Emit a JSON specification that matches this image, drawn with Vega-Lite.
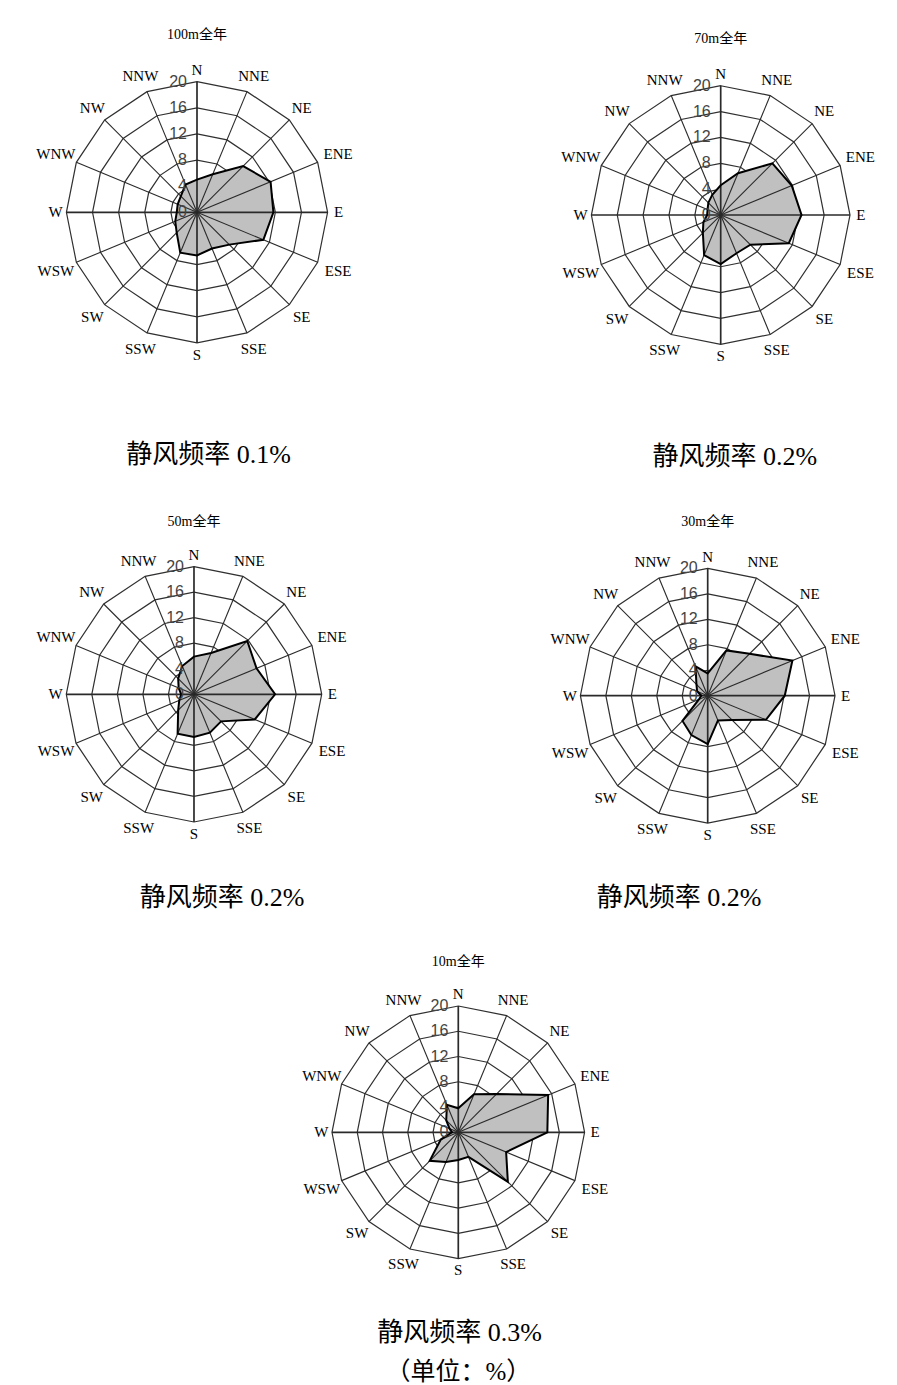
{
  "$schema": "https://vega.github.io/schema/vega-lite/v6.json",
  "padding": 0,
  "background": "white",
  "config": {"view": {"stroke": null}, "concat": {"spacing": 0}},
  "datasets": {
    "dirs": [{"dir":"N"},{"dir":"NNE"},{"dir":"NE"},{"dir":"ENE"},{"dir":"E"},{"dir":"ESE"},{"dir":"SE"},{"dir":"SSE"},{"dir":"S"},{"dir":"SSW"},{"dir":"SW"},{"dir":"WSW"},{"dir":"W"},{"dir":"WNW"},{"dir":"NW"},{"dir":"NNW"}],
    "ticks": [{"t":0},{"t":4},{"t":8},{"t":12},{"t":16},{"t":20}],
    "panels": [
      {"h":"100m","title":"100m全年","cap":"静风频率 0.1%"},
      {"h":"70m","title":"70m全年","cap":"静风频率 0.2%"},
      {"h":"50m","title":"50m全年","cap":"静风频率 0.2%"},
      {"h":"30m","title":"30m全年","cap":"静风频率 0.2%"},
      {"h":"10m","title":"10m全年","cap":"静风频率 0.3%","unit":"（单位：%）"}
    ],
    "wind": [
      {"h":"100m","dir":"N","v":5.0},{"h":"100m","dir":"NNE","v":6.3},{"h":"100m","dir":"NE","v":10.0},{"h":"100m","dir":"ENE","v":12.2},
      {"h":"100m","dir":"E","v":11.7},{"h":"100m","dir":"ESE","v":11.0},{"h":"100m","dir":"SE","v":7.0},{"h":"100m","dir":"SSE","v":6.0},
      {"h":"100m","dir":"S","v":6.6},{"h":"100m","dir":"SSW","v":6.7},{"h":"100m","dir":"SW","v":4.4},{"h":"100m","dir":"WSW","v":3.6},
      {"h":"100m","dir":"W","v":3.1},{"h":"100m","dir":"WNW","v":3.2},{"h":"100m","dir":"NW","v":3.5},{"h":"100m","dir":"NNW","v":4.6},
      {"h":"70m","dir":"N","v":4.6},{"h":"70m","dir":"NNE","v":7.0},{"h":"70m","dir":"NE","v":11.3},{"h":"70m","dir":"ENE","v":11.9},
      {"h":"70m","dir":"E","v":12.5},{"h":"70m","dir":"ESE","v":11.4},{"h":"70m","dir":"SE","v":6.5},{"h":"70m","dir":"SSE","v":6.4},
      {"h":"70m","dir":"S","v":7.6},{"h":"70m","dir":"SSW","v":6.7},{"h":"70m","dir":"SW","v":3.9},{"h":"70m","dir":"WSW","v":2.9},
      {"h":"70m","dir":"W","v":2.1},{"h":"70m","dir":"WNW","v":2.2},{"h":"70m","dir":"NW","v":2.7},{"h":"70m","dir":"NNW","v":3.4},
      {"h":"50m","dir":"N","v":5.9},{"h":"50m","dir":"NNE","v":7.0},{"h":"50m","dir":"NE","v":11.8},{"h":"50m","dir":"ENE","v":10.6},
      {"h":"50m","dir":"E","v":12.7},{"h":"50m","dir":"ESE","v":10.3},{"h":"50m","dir":"SE","v":6.0},{"h":"50m","dir":"SSE","v":6.5},
      {"h":"50m","dir":"S","v":6.7},{"h":"50m","dir":"SSW","v":6.7},{"h":"50m","dir":"SW","v":3.5},{"h":"50m","dir":"WSW","v":2.5},
      {"h":"50m","dir":"W","v":2.0},{"h":"50m","dir":"WNW","v":2.6},{"h":"50m","dir":"NW","v":3.5},{"h":"50m","dir":"NNW","v":4.8},
      {"h":"30m","dir":"N","v":3.5},{"h":"30m","dir":"NNE","v":7.7},{"h":"30m","dir":"NE","v":9.3},{"h":"30m","dir":"ENE","v":14.4},
      {"h":"30m","dir":"E","v":12.1},{"h":"30m","dir":"ESE","v":9.9},{"h":"30m","dir":"SE","v":5.4},{"h":"30m","dir":"SSE","v":4.2},
      {"h":"30m","dir":"S","v":7.6},{"h":"30m","dir":"SSW","v":6.7},{"h":"30m","dir":"SW","v":5.6},{"h":"30m","dir":"WSW","v":1.5},
      {"h":"30m","dir":"W","v":1.0},{"h":"30m","dir":"WNW","v":1.8},{"h":"30m","dir":"NW","v":2.5},{"h":"30m","dir":"NNW","v":5.0},
      {"h":"10m","dir":"N","v":3.8},{"h":"10m","dir":"NNE","v":6.5},{"h":"10m","dir":"NE","v":8.6},{"h":"10m","dir":"ENE","v":15.4},
      {"h":"10m","dir":"E","v":14.1},{"h":"10m","dir":"ESE","v":8.2},{"h":"10m","dir":"SE","v":11.1},{"h":"10m","dir":"SSE","v":4.2},
      {"h":"10m","dir":"S","v":4.4},{"h":"10m","dir":"SSW","v":5.1},{"h":"10m","dir":"SW","v":6.4},{"h":"10m","dir":"WSW","v":3.0},
      {"h":"10m","dir":"W","v":1.0},{"h":"10m","dir":"WNW","v":1.5},{"h":"10m","dir":"NW","v":2.7},{"h":"10m","dir":"NNW","v":4.7}
    ]
  },
  "vconcat": [
    {"hconcat": [
      {
        "width": 448, "height": 485,
        "encoding": {
          "x": {"field": "px", "type": "quantitative", "scale": {"domain": [-30.17, 38.44], "nice": false, "zero": false}, "axis": null},
          "y": {"field": "py", "type": "quantitative", "scale": {"domain": [-41.76, 32.51], "nice": false, "zero": false}, "axis": null}
        },
        "layer": [
          {"data": {"name": "dirs"}, "transform": [{"calculate": "indexof(['N','NNE','NE','ENE','E','ESE','SE','SSE','S','SSW','SW','WSW','W','WNW','NW','NNW'], datum.dir)", "as": "idx"}, {"calculate": "datum.idx * PI / 8", "as": "a"}, {"calculate": "[4,8,12,16,20]", "as": "ring"}, {"flatten": ["ring"]}, {"calculate": "datum.ring * sin(datum.a)", "as": "px"}, {"calculate": "datum.ring * cos(datum.a)", "as": "py"}],
           "mark": {"type": "line", "interpolate": "linear-closed", "stroke": "#303030", "strokeWidth": 1.2},
           "encoding": {"detail": {"field": "ring", "type": "nominal"}, "order": {"field": "idx", "type": "quantitative"}}},
          {"data": {"name": "wind"}, "transform": [{"filter": "datum.h == '100m'"}, {"calculate": "indexof(['N','NNE','NE','ENE','E','ESE','SE','SSE','S','SSW','SW','WSW','W','WNW','NW','NNW'], datum.dir)", "as": "idx"}, {"calculate": "datum.idx * PI / 8", "as": "a"}, {"calculate": "datum.v * sin(datum.a)", "as": "px"}, {"calculate": "datum.v * cos(datum.a)", "as": "py"}],
           "mark": {"type": "line", "interpolate": "linear-closed", "fill": "#c0c0c0", "stroke": "#c0c0c0", "strokeOpacity": 0},
           "encoding": {"order": {"field": "idx", "type": "quantitative"}}},
          {"data": {"name": "dirs"}, "transform": [{"calculate": "indexof(['N','NNE','NE','ENE','E','ESE','SE','SSE','S','SSW','SW','WSW','W','WNW','NW','NNW'], datum.dir)", "as": "idx"}, {"calculate": "datum.idx * PI / 8", "as": "a"}, {"calculate": "20 * sin(datum.a)", "as": "px"}, {"calculate": "20 * cos(datum.a)", "as": "py"}],
           "mark": {"type": "rule", "stroke": "#2a2a2a"},
           "encoding": {"x2": {"datum": 0}, "y2": {"datum": 0}, "strokeWidth": {"condition": {"test": "datum.idx % 4 == 0", "value": 1.7}, "value": 1.1}}},
          {"data": {"name": "wind"}, "transform": [{"filter": "datum.h == '100m'"}, {"calculate": "indexof(['N','NNE','NE','ENE','E','ESE','SE','SSE','S','SSW','SW','WSW','W','WNW','NW','NNW'], datum.dir)", "as": "idx"}, {"calculate": "datum.idx * PI / 8", "as": "a"}, {"calculate": "datum.v * sin(datum.a)", "as": "px"}, {"calculate": "datum.v * cos(datum.a)", "as": "py"}],
           "mark": {"type": "line", "interpolate": "linear-closed", "stroke": "#000000", "strokeWidth": 2},
           "encoding": {"order": {"field": "idx", "type": "quantitative"}}},
          {"data": {"name": "dirs"}, "transform": [{"calculate": "indexof(['N','NNE','NE','ENE','E','ESE','SE','SSE','S','SSW','SW','WSW','W','WNW','NW','NNW'], datum.dir)", "as": "idx"}, {"calculate": "datum.idx * PI / 8", "as": "a"}, {"calculate": "20.9 + abs(sin(datum.a)) * 0.77 * length(datum.dir) + abs(cos(datum.a)) * 0.95", "as": "lr"}, {"calculate": "datum.lr * sin(datum.a)", "as": "px"}, {"calculate": "datum.lr * cos(datum.a)", "as": "py"}],
           "mark": {"type": "text", "font": "Liberation Serif", "fontSize": 15, "fill": "#000000", "align": "center", "baseline": "middle"},
           "encoding": {"text": {"field": "dir"}}},
          {"data": {"name": "ticks"}, "transform": [{"calculate": "0", "as": "px"}, {"calculate": "datum.t", "as": "py"}],
           "mark": {"type": "text", "font": "Liberation Sans", "fontSize": 16, "fill": "#444444", "align": "right", "baseline": "middle", "dx": -10},
           "encoding": {"text": {"field": "t"}}},
          {"data": {"name": "panels"}, "transform": [{"filter": "datum.h == '100m'"}, {"calculate": "0", "as": "px"}, {"calculate": "27.15", "as": "py"}],
           "mark": {"type": "text", "font": "'Liberation Serif', 'Noto Sans CJK SC'", "fontSize": 14, "fill": "#000000", "align": "center", "baseline": "middle"},
           "encoding": {"text": {"field": "title"}}},
          {"data": {"name": "panels"}, "transform": [{"filter": "datum.h == '100m'"}, {"calculate": "1.76", "as": "px"}, {"calculate": "-37.17", "as": "py"}],
           "mark": {"type": "text", "font": "'Liberation Serif', 'Noto Sans CJK SC'", "fontSize": 26, "fill": "#000000", "align": "center", "baseline": "middle"},
           "encoding": {"text": {"field": "cap"}}}
        ]
      },
      {
        "width": 449, "height": 485,
        "encoding": {
          "x": {"field": "px", "type": "quantitative", "scale": {"domain": [-42.18, 27.27], "nice": false, "zero": false}, "axis": null},
          "y": {"field": "py", "type": "quantitative", "scale": {"domain": [-41.76, 33.26], "nice": false, "zero": false}, "axis": null}
        },
        "layer": [
          {"data": {"name": "dirs"}, "transform": [{"calculate": "indexof(['N','NNE','NE','ENE','E','ESE','SE','SSE','S','SSW','SW','WSW','W','WNW','NW','NNW'], datum.dir)", "as": "idx"}, {"calculate": "datum.idx * PI / 8", "as": "a"}, {"calculate": "[4,8,12,16,20]", "as": "ring"}, {"flatten": ["ring"]}, {"calculate": "datum.ring * sin(datum.a)", "as": "px"}, {"calculate": "datum.ring * cos(datum.a)", "as": "py"}],
           "mark": {"type": "line", "interpolate": "linear-closed", "stroke": "#303030", "strokeWidth": 1.2},
           "encoding": {"detail": {"field": "ring", "type": "nominal"}, "order": {"field": "idx", "type": "quantitative"}}},
          {"data": {"name": "wind"}, "transform": [{"filter": "datum.h == '70m'"}, {"calculate": "indexof(['N','NNE','NE','ENE','E','ESE','SE','SSE','S','SSW','SW','WSW','W','WNW','NW','NNW'], datum.dir)", "as": "idx"}, {"calculate": "datum.idx * PI / 8", "as": "a"}, {"calculate": "datum.v * sin(datum.a)", "as": "px"}, {"calculate": "datum.v * cos(datum.a)", "as": "py"}],
           "mark": {"type": "line", "interpolate": "linear-closed", "fill": "#c0c0c0", "stroke": "#c0c0c0", "strokeOpacity": 0},
           "encoding": {"order": {"field": "idx", "type": "quantitative"}}},
          {"data": {"name": "dirs"}, "transform": [{"calculate": "indexof(['N','NNE','NE','ENE','E','ESE','SE','SSE','S','SSW','SW','WSW','W','WNW','NW','NNW'], datum.dir)", "as": "idx"}, {"calculate": "datum.idx * PI / 8", "as": "a"}, {"calculate": "20 * sin(datum.a)", "as": "px"}, {"calculate": "20 * cos(datum.a)", "as": "py"}],
           "mark": {"type": "rule", "stroke": "#2a2a2a"},
           "encoding": {"x2": {"datum": 0}, "y2": {"datum": 0}, "strokeWidth": {"condition": {"test": "datum.idx % 4 == 0", "value": 1.7}, "value": 1.1}}},
          {"data": {"name": "wind"}, "transform": [{"filter": "datum.h == '70m'"}, {"calculate": "indexof(['N','NNE','NE','ENE','E','ESE','SE','SSE','S','SSW','SW','WSW','W','WNW','NW','NNW'], datum.dir)", "as": "idx"}, {"calculate": "datum.idx * PI / 8", "as": "a"}, {"calculate": "datum.v * sin(datum.a)", "as": "px"}, {"calculate": "datum.v * cos(datum.a)", "as": "py"}],
           "mark": {"type": "line", "interpolate": "linear-closed", "stroke": "#000000", "strokeWidth": 2},
           "encoding": {"order": {"field": "idx", "type": "quantitative"}}},
          {"data": {"name": "dirs"}, "transform": [{"calculate": "indexof(['N','NNE','NE','ENE','E','ESE','SE','SSE','S','SSW','SW','WSW','W','WNW','NW','NNW'], datum.dir)", "as": "idx"}, {"calculate": "datum.idx * PI / 8", "as": "a"}, {"calculate": "20.9 + abs(sin(datum.a)) * 0.77 * length(datum.dir) + abs(cos(datum.a)) * 0.95", "as": "lr"}, {"calculate": "datum.lr * sin(datum.a)", "as": "px"}, {"calculate": "datum.lr * cos(datum.a)", "as": "py"}],
           "mark": {"type": "text", "font": "Liberation Serif", "fontSize": 15, "fill": "#000000", "align": "center", "baseline": "middle"},
           "encoding": {"text": {"field": "dir"}}},
          {"data": {"name": "ticks"}, "transform": [{"calculate": "0", "as": "px"}, {"calculate": "datum.t", "as": "py"}],
           "mark": {"type": "text", "font": "Liberation Sans", "fontSize": 16, "fill": "#444444", "align": "right", "baseline": "middle", "dx": -10},
           "encoding": {"text": {"field": "t"}}},
          {"data": {"name": "panels"}, "transform": [{"filter": "datum.h == '70m'"}, {"calculate": "0", "as": "px"}, {"calculate": "27.22", "as": "py"}],
           "mark": {"type": "text", "font": "'Liberation Serif', 'Noto Sans CJK SC'", "fontSize": 14, "fill": "#000000", "align": "center", "baseline": "middle"},
           "encoding": {"text": {"field": "title"}}},
          {"data": {"name": "panels"}, "transform": [{"filter": "datum.h == '70m'"}, {"calculate": "2.2", "as": "px"}, {"calculate": "-37.43", "as": "py"}],
           "mark": {"type": "text", "font": "'Liberation Serif', 'Noto Sans CJK SC'", "fontSize": 26, "fill": "#000000", "align": "center", "baseline": "middle"},
           "encoding": {"text": {"field": "cap"}}}
        ]
      }
    ]},
    {"hconcat": [
      {
        "width": 448, "height": 430,
        "encoding": {
          "x": {"field": "px", "type": "quantitative", "scale": {"domain": [-30.38, 39.78], "nice": false, "zero": false}, "axis": null},
          "y": {"field": "py", "type": "quantitative", "scale": {"domain": [-34.57, 32.78], "nice": false, "zero": false}, "axis": null}
        },
        "layer": [
          {"data": {"name": "dirs"}, "transform": [{"calculate": "indexof(['N','NNE','NE','ENE','E','ESE','SE','SSE','S','SSW','SW','WSW','W','WNW','NW','NNW'], datum.dir)", "as": "idx"}, {"calculate": "datum.idx * PI / 8", "as": "a"}, {"calculate": "[4,8,12,16,20]", "as": "ring"}, {"flatten": ["ring"]}, {"calculate": "datum.ring * sin(datum.a)", "as": "px"}, {"calculate": "datum.ring * cos(datum.a)", "as": "py"}],
           "mark": {"type": "line", "interpolate": "linear-closed", "stroke": "#303030", "strokeWidth": 1.2},
           "encoding": {"detail": {"field": "ring", "type": "nominal"}, "order": {"field": "idx", "type": "quantitative"}}},
          {"data": {"name": "wind"}, "transform": [{"filter": "datum.h == '50m'"}, {"calculate": "indexof(['N','NNE','NE','ENE','E','ESE','SE','SSE','S','SSW','SW','WSW','W','WNW','NW','NNW'], datum.dir)", "as": "idx"}, {"calculate": "datum.idx * PI / 8", "as": "a"}, {"calculate": "datum.v * sin(datum.a)", "as": "px"}, {"calculate": "datum.v * cos(datum.a)", "as": "py"}],
           "mark": {"type": "line", "interpolate": "linear-closed", "fill": "#c0c0c0", "stroke": "#c0c0c0", "strokeOpacity": 0},
           "encoding": {"order": {"field": "idx", "type": "quantitative"}}},
          {"data": {"name": "dirs"}, "transform": [{"calculate": "indexof(['N','NNE','NE','ENE','E','ESE','SE','SSE','S','SSW','SW','WSW','W','WNW','NW','NNW'], datum.dir)", "as": "idx"}, {"calculate": "datum.idx * PI / 8", "as": "a"}, {"calculate": "20 * sin(datum.a)", "as": "px"}, {"calculate": "20 * cos(datum.a)", "as": "py"}],
           "mark": {"type": "rule", "stroke": "#2a2a2a"},
           "encoding": {"x2": {"datum": 0}, "y2": {"datum": 0}, "strokeWidth": {"condition": {"test": "datum.idx % 4 == 0", "value": 1.7}, "value": 1.1}}},
          {"data": {"name": "wind"}, "transform": [{"filter": "datum.h == '50m'"}, {"calculate": "indexof(['N','NNE','NE','ENE','E','ESE','SE','SSE','S','SSW','SW','WSW','W','WNW','NW','NNW'], datum.dir)", "as": "idx"}, {"calculate": "datum.idx * PI / 8", "as": "a"}, {"calculate": "datum.v * sin(datum.a)", "as": "px"}, {"calculate": "datum.v * cos(datum.a)", "as": "py"}],
           "mark": {"type": "line", "interpolate": "linear-closed", "stroke": "#000000", "strokeWidth": 2},
           "encoding": {"order": {"field": "idx", "type": "quantitative"}}},
          {"data": {"name": "dirs"}, "transform": [{"calculate": "indexof(['N','NNE','NE','ENE','E','ESE','SE','SSE','S','SSW','SW','WSW','W','WNW','NW','NNW'], datum.dir)", "as": "idx"}, {"calculate": "datum.idx * PI / 8", "as": "a"}, {"calculate": "20.9 + abs(sin(datum.a)) * 0.77 * length(datum.dir) + abs(cos(datum.a)) * 0.95", "as": "lr"}, {"calculate": "datum.lr * sin(datum.a)", "as": "px"}, {"calculate": "datum.lr * cos(datum.a)", "as": "py"}],
           "mark": {"type": "text", "font": "Liberation Serif", "fontSize": 15, "fill": "#000000", "align": "center", "baseline": "middle"},
           "encoding": {"text": {"field": "dir"}}},
          {"data": {"name": "ticks"}, "transform": [{"calculate": "0", "as": "px"}, {"calculate": "datum.t", "as": "py"}],
           "mark": {"type": "text", "font": "Liberation Sans", "fontSize": 16, "fill": "#444444", "align": "right", "baseline": "middle", "dx": -10},
           "encoding": {"text": {"field": "t"}}},
          {"data": {"name": "panels"}, "transform": [{"filter": "datum.h == '50m'"}, {"calculate": "0", "as": "px"}, {"calculate": "26.98", "as": "py"}],
           "mark": {"type": "text", "font": "'Liberation Serif', 'Noto Sans CJK SC'", "fontSize": 14, "fill": "#000000", "align": "center", "baseline": "middle"},
           "encoding": {"text": {"field": "title"}}},
          {"data": {"name": "panels"}, "transform": [{"filter": "datum.h == '50m'"}, {"calculate": "4.39", "as": "px"}, {"calculate": "-31.9", "as": "py"}],
           "mark": {"type": "text", "font": "'Liberation Serif', 'Noto Sans CJK SC'", "fontSize": 26, "fill": "#000000", "align": "center", "baseline": "middle"},
           "encoding": {"text": {"field": "cap"}}}
        ]
      },
      {
        "width": 449, "height": 430,
        "encoding": {
          "x": {"field": "px", "type": "quantitative", "scale": {"domain": [-40.8, 29.74], "nice": false, "zero": false}, "axis": null},
          "y": {"field": "py", "type": "quantitative", "scale": {"domain": [-34.45, 33.1], "nice": false, "zero": false}, "axis": null}
        },
        "layer": [
          {"data": {"name": "dirs"}, "transform": [{"calculate": "indexof(['N','NNE','NE','ENE','E','ESE','SE','SSE','S','SSW','SW','WSW','W','WNW','NW','NNW'], datum.dir)", "as": "idx"}, {"calculate": "datum.idx * PI / 8", "as": "a"}, {"calculate": "[4,8,12,16,20]", "as": "ring"}, {"flatten": ["ring"]}, {"calculate": "datum.ring * sin(datum.a)", "as": "px"}, {"calculate": "datum.ring * cos(datum.a)", "as": "py"}],
           "mark": {"type": "line", "interpolate": "linear-closed", "stroke": "#303030", "strokeWidth": 1.2},
           "encoding": {"detail": {"field": "ring", "type": "nominal"}, "order": {"field": "idx", "type": "quantitative"}}},
          {"data": {"name": "wind"}, "transform": [{"filter": "datum.h == '30m'"}, {"calculate": "indexof(['N','NNE','NE','ENE','E','ESE','SE','SSE','S','SSW','SW','WSW','W','WNW','NW','NNW'], datum.dir)", "as": "idx"}, {"calculate": "datum.idx * PI / 8", "as": "a"}, {"calculate": "datum.v * sin(datum.a)", "as": "px"}, {"calculate": "datum.v * cos(datum.a)", "as": "py"}],
           "mark": {"type": "line", "interpolate": "linear-closed", "fill": "#c0c0c0", "stroke": "#c0c0c0", "strokeOpacity": 0},
           "encoding": {"order": {"field": "idx", "type": "quantitative"}}},
          {"data": {"name": "dirs"}, "transform": [{"calculate": "indexof(['N','NNE','NE','ENE','E','ESE','SE','SSE','S','SSW','SW','WSW','W','WNW','NW','NNW'], datum.dir)", "as": "idx"}, {"calculate": "datum.idx * PI / 8", "as": "a"}, {"calculate": "20 * sin(datum.a)", "as": "px"}, {"calculate": "20 * cos(datum.a)", "as": "py"}],
           "mark": {"type": "rule", "stroke": "#2a2a2a"},
           "encoding": {"x2": {"datum": 0}, "y2": {"datum": 0}, "strokeWidth": {"condition": {"test": "datum.idx % 4 == 0", "value": 1.7}, "value": 1.1}}},
          {"data": {"name": "wind"}, "transform": [{"filter": "datum.h == '30m'"}, {"calculate": "indexof(['N','NNE','NE','ENE','E','ESE','SE','SSE','S','SSW','SW','WSW','W','WNW','NW','NNW'], datum.dir)", "as": "idx"}, {"calculate": "datum.idx * PI / 8", "as": "a"}, {"calculate": "datum.v * sin(datum.a)", "as": "px"}, {"calculate": "datum.v * cos(datum.a)", "as": "py"}],
           "mark": {"type": "line", "interpolate": "linear-closed", "stroke": "#000000", "strokeWidth": 2},
           "encoding": {"order": {"field": "idx", "type": "quantitative"}}},
          {"data": {"name": "dirs"}, "transform": [{"calculate": "indexof(['N','NNE','NE','ENE','E','ESE','SE','SSE','S','SSW','SW','WSW','W','WNW','NW','NNW'], datum.dir)", "as": "idx"}, {"calculate": "datum.idx * PI / 8", "as": "a"}, {"calculate": "20.9 + abs(sin(datum.a)) * 0.77 * length(datum.dir) + abs(cos(datum.a)) * 0.95", "as": "lr"}, {"calculate": "datum.lr * sin(datum.a)", "as": "px"}, {"calculate": "datum.lr * cos(datum.a)", "as": "py"}],
           "mark": {"type": "text", "font": "Liberation Serif", "fontSize": 15, "fill": "#000000", "align": "center", "baseline": "middle"},
           "encoding": {"text": {"field": "dir"}}},
          {"data": {"name": "ticks"}, "transform": [{"calculate": "0", "as": "px"}, {"calculate": "datum.t", "as": "py"}],
           "mark": {"type": "text", "font": "Liberation Sans", "fontSize": 16, "fill": "#444444", "align": "right", "baseline": "middle", "dx": -10},
           "encoding": {"text": {"field": "t"}}},
          {"data": {"name": "panels"}, "transform": [{"filter": "datum.h == '30m'"}, {"calculate": "0", "as": "px"}, {"calculate": "27.3", "as": "py"}],
           "mark": {"type": "text", "font": "'Liberation Serif', 'Noto Sans CJK SC'", "fontSize": 14, "fill": "#000000", "align": "center", "baseline": "middle"},
           "encoding": {"text": {"field": "title"}}},
          {"data": {"name": "panels"}, "transform": [{"filter": "datum.h == '30m'"}, {"calculate": "-4.5", "as": "px"}, {"calculate": "-31.8", "as": "py"}],
           "mark": {"type": "text", "font": "'Liberation Serif', 'Noto Sans CJK SC'", "fontSize": 26, "fill": "#000000", "align": "center", "baseline": "middle"},
           "encoding": {"text": {"field": "cap"}}}
        ]
      }
    ]},
    {
      "width": 897, "height": 470,
      "encoding": {
        "x": {"field": "px", "type": "quantitative", "scale": {"domain": [-72.57, 69.47], "nice": false, "zero": false}, "axis": null},
        "y": {"field": "py", "type": "quantitative", "scale": {"domain": [-40.02, 34.41], "nice": false, "zero": false}, "axis": null}
      },
      "layer": [
        {"data": {"name": "dirs"}, "transform": [{"calculate": "indexof(['N','NNE','NE','ENE','E','ESE','SE','SSE','S','SSW','SW','WSW','W','WNW','NW','NNW'], datum.dir)", "as": "idx"}, {"calculate": "datum.idx * PI / 8", "as": "a"}, {"calculate": "[4,8,12,16,20]", "as": "ring"}, {"flatten": ["ring"]}, {"calculate": "datum.ring * sin(datum.a)", "as": "px"}, {"calculate": "datum.ring * cos(datum.a)", "as": "py"}],
         "mark": {"type": "line", "interpolate": "linear-closed", "stroke": "#303030", "strokeWidth": 1.2},
         "encoding": {"detail": {"field": "ring", "type": "nominal"}, "order": {"field": "idx", "type": "quantitative"}}},
        {"data": {"name": "wind"}, "transform": [{"filter": "datum.h == '10m'"}, {"calculate": "indexof(['N','NNE','NE','ENE','E','ESE','SE','SSE','S','SSW','SW','WSW','W','WNW','NW','NNW'], datum.dir)", "as": "idx"}, {"calculate": "datum.idx * PI / 8", "as": "a"}, {"calculate": "datum.v * sin(datum.a)", "as": "px"}, {"calculate": "datum.v * cos(datum.a)", "as": "py"}],
         "mark": {"type": "line", "interpolate": "linear-closed", "fill": "#c0c0c0", "stroke": "#c0c0c0", "strokeOpacity": 0},
         "encoding": {"order": {"field": "idx", "type": "quantitative"}}},
        {"data": {"name": "dirs"}, "transform": [{"calculate": "indexof(['N','NNE','NE','ENE','E','ESE','SE','SSE','S','SSW','SW','WSW','W','WNW','NW','NNW'], datum.dir)", "as": "idx"}, {"calculate": "datum.idx * PI / 8", "as": "a"}, {"calculate": "20 * sin(datum.a)", "as": "px"}, {"calculate": "20 * cos(datum.a)", "as": "py"}],
         "mark": {"type": "rule", "stroke": "#2a2a2a"},
         "encoding": {"x2": {"datum": 0}, "y2": {"datum": 0}, "strokeWidth": {"condition": {"test": "datum.idx % 4 == 0", "value": 1.7}, "value": 1.1}}},
        {"data": {"name": "wind"}, "transform": [{"filter": "datum.h == '10m'"}, {"calculate": "indexof(['N','NNE','NE','ENE','E','ESE','SE','SSE','S','SSW','SW','WSW','W','WNW','NW','NNW'], datum.dir)", "as": "idx"}, {"calculate": "datum.idx * PI / 8", "as": "a"}, {"calculate": "datum.v * sin(datum.a)", "as": "px"}, {"calculate": "datum.v * cos(datum.a)", "as": "py"}],
         "mark": {"type": "line", "interpolate": "linear-closed", "stroke": "#000000", "strokeWidth": 2},
         "encoding": {"order": {"field": "idx", "type": "quantitative"}}},
        {"data": {"name": "dirs"}, "transform": [{"calculate": "indexof(['N','NNE','NE','ENE','E','ESE','SE','SSE','S','SSW','SW','WSW','W','WNW','NW','NNW'], datum.dir)", "as": "idx"}, {"calculate": "datum.idx * PI / 8", "as": "a"}, {"calculate": "20.9 + abs(sin(datum.a)) * 0.77 * length(datum.dir) + abs(cos(datum.a)) * 0.95", "as": "lr"}, {"calculate": "datum.lr * sin(datum.a)", "as": "px"}, {"calculate": "datum.lr * cos(datum.a)", "as": "py"}],
         "mark": {"type": "text", "font": "Liberation Serif", "fontSize": 15, "fill": "#000000", "align": "center", "baseline": "middle"},
         "encoding": {"text": {"field": "dir"}}},
        {"data": {"name": "ticks"}, "transform": [{"calculate": "0", "as": "px"}, {"calculate": "datum.t", "as": "py"}],
         "mark": {"type": "text", "font": "Liberation Sans", "fontSize": 16, "fill": "#444444", "align": "right", "baseline": "middle", "dx": -10},
         "encoding": {"text": {"field": "t"}}},
        {"data": {"name": "panels"}, "transform": [{"filter": "datum.h == '10m'"}, {"calculate": "0", "as": "px"}, {"calculate": "26.97", "as": "py"}],
         "mark": {"type": "text", "font": "'Liberation Serif', 'Noto Sans CJK SC'", "fontSize": 14, "fill": "#000000", "align": "center", "baseline": "middle"},
         "encoding": {"text": {"field": "title"}}},
        {"data": {"name": "panels"}, "transform": [{"filter": "datum.h == '10m'"}, {"calculate": "0.2", "as": "px"}, {"calculate": "-31.79", "as": "py"}],
         "mark": {"type": "text", "font": "'Liberation Serif', 'Noto Sans CJK SC'", "fontSize": 26, "fill": "#000000", "align": "center", "baseline": "middle"},
         "encoding": {"text": {"field": "cap"}}},
        {"data": {"name": "panels"}, "transform": [{"filter": "datum.h == '10m'"}, {"calculate": "0", "as": "px"}, {"calculate": "-37.96", "as": "py"}],
         "mark": {"type": "text", "font": "'Liberation Serif', 'Noto Sans CJK SC'", "fontSize": 25, "fill": "#000000", "align": "center", "baseline": "middle"},
         "encoding": {"text": {"field": "unit"}}}
      ]
    }
  ]
}
